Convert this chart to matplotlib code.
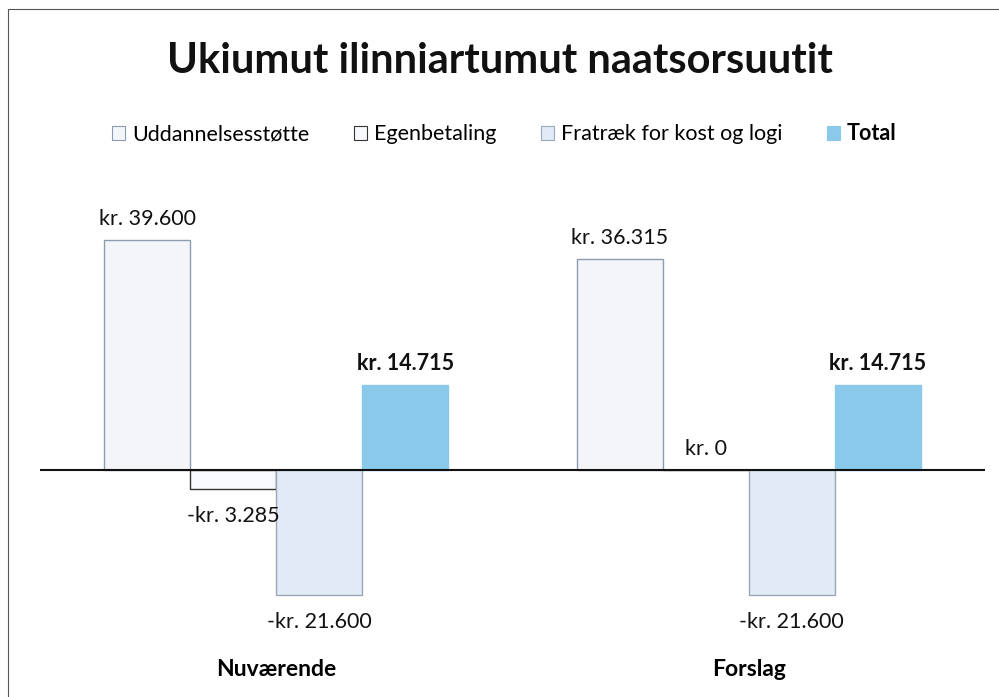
import matplotlib
matplotlib.use("Agg")
import matplotlib.pyplot as plt
import matplotlib.patches as mpatches
import numpy as np

plt.rcParams['font.family'] = ['Lato', 'DejaVu Sans']

# ── data ─────────────────────────────────────────────────────────────────────
categories   = ["Nuværende", "Forslag"]
series_names = ["Uddannelsesstøtte", "Egenbetaling", "Fratræk for kost og logi", "Total"]
uddannelse   = [39600, 36315]
egenbetaling = [-3285, 0]
fratraek     = [-21600, -21600]
total        = [14715, 14715]

values = [uddannelse, egenbetaling, fratraek, total]
faces  = ["#f3f5f9", "#f8f9fc", "#e2eaf5", "#8ac9ea"]
edges  = ["#8b9cae", "#333333", "#9aa8b8", "#8ac9ea"]

def kr(v):
    s = f"{abs(v):,}".replace(",", ".")
    return f"-kr. {s}" if v < 0 else f"kr. {s}"

fig = plt.figure(figsize=(9.99, 6.97), dpi=100)
ax = fig.add_axes([0.040, 0.0844, 0.946, 0.624])

x = np.arange(len(categories))
w = 0.182
for i, (vals, fc, ec, name) in enumerate(zip(values, faces, edges, series_names)):
    pos = x + (i - 1.5) * w
    ax.bar(pos, vals, w, color=fc, edgecolor=ec, linewidth=1.0, label=name)
    bold = name == "Total"
    for p, v in zip(pos, vals):
        if v >= 0:
            ax.annotate(kr(v), (p, v), xytext=(0, 8), textcoords="offset points",
                        ha="center", va="bottom", fontsize=15.5,
                        fontweight="bold" if bold else "normal", color="#111111")
        else:
            ax.annotate(kr(v), (p, v), xytext=(0, -12), textcoords="offset points",
                        ha="center", va="top", fontsize=15.5,
                        fontweight="bold" if bold else "normal", color="#111111")

ax.axhline(0, color="#111111", linewidth=1.5)
ax.set_xlim(-0.5, 1.5)
ax.set_ylim(-29000, 46000)
ax.set_xticks(x)
ax.set_xticklabels(categories, fontsize=16.5, fontweight="bold")
ax.tick_params(axis="x", length=0, pad=15)
ax.set_yticks([])
for s in ax.spines.values():
    s.set_visible(False)

fig.text(0.5, 1 - 73 / 697, "Ukiumut ilinniartumut naatsorsuutit", ha="center", va="baseline",
         fontsize=30, fontweight="bold", color="#111111")

handles = [mpatches.Patch(facecolor=fc, edgecolor=ec, linewidth=0.8) for fc, ec in zip(faces, edges)]
leg = fig.legend(handles, series_names, loc="center", bbox_to_anchor=(0.505, 1 - 134 / 697), ncol=4,
                 frameon=False, fontsize=15.5, handlelength=0.6, handleheight=0.6,
                 handletextpad=0.3, columnspacing=2.1)
leg.get_texts()[-1].set_fontweight("bold")

# frame around the chart area
fig.patches.append(mpatches.Rectangle((8 / 999, -0.01), 1.0, 1 - 9 / 697 + 0.01,
                                      transform=fig.transFigure, fill=False,
                                      edgecolor="#555555", linewidth=0.8))

fig.savefig("out.png", dpi=100)
